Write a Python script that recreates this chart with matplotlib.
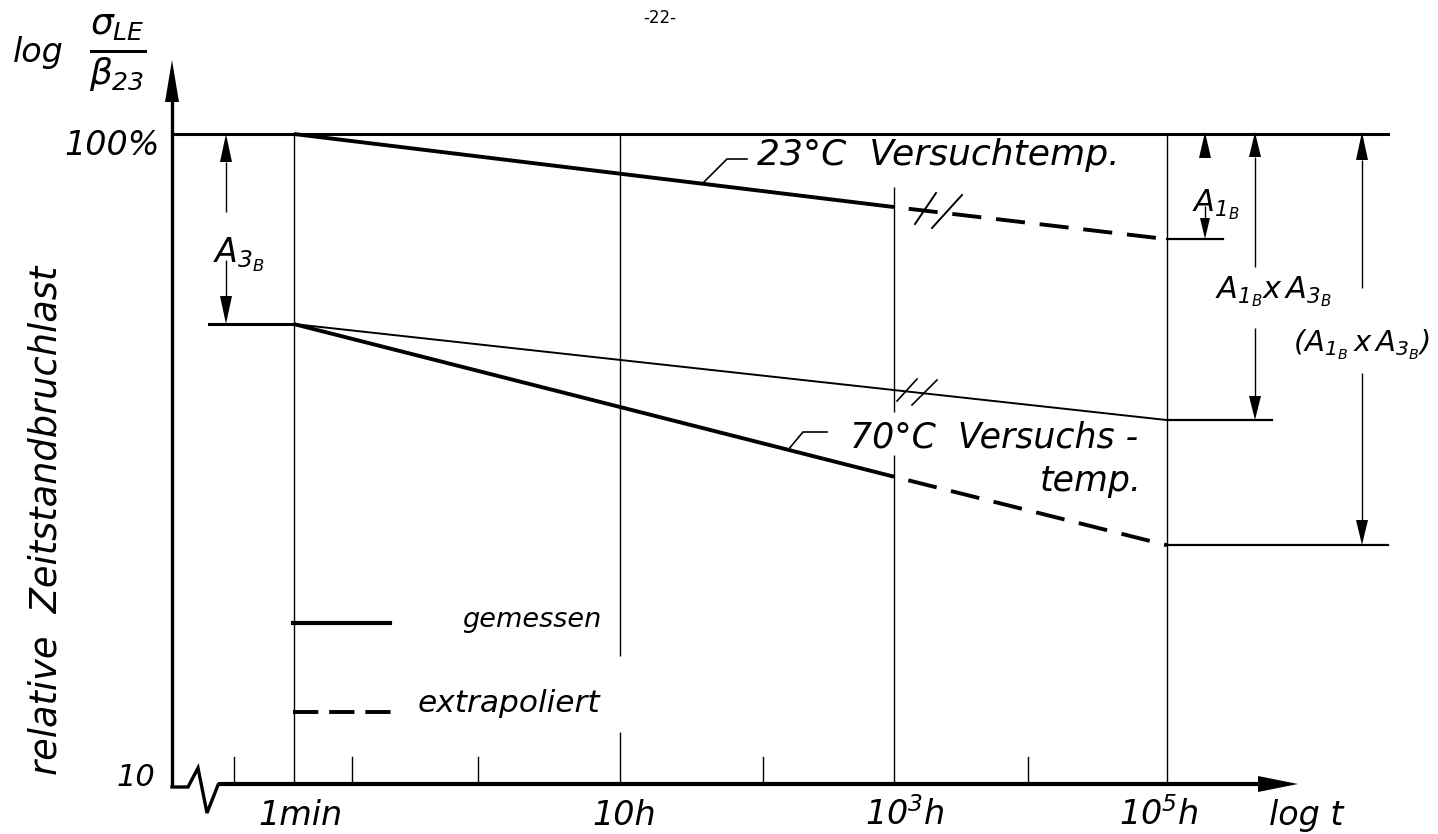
import numpy as np
import matplotlib
matplotlib.use("Agg")
import matplotlib.pyplot as plt
from matplotlib.patches import Polygon

# ---------------- data (schematic log-t positions, % of short-time strength) ----
time_labels = ["1min", "10h", r"$10^3$h", r"$10^5$h"]
time_pos = [2.94, 6.20, 8.94, 11.67]          # main grid lines on the log t axis
minor_tick_pos = [2.34, 3.52, 4.78, 7.63, 10.28]

level_100 = 100.0
level_A3B = 51.0

# 23 °C test temperature
t23_meas_x = [2.94, 8.94]
t23_meas_y = [100.0, 77.2]
t23_extr_x = [8.94, 11.67]
t23_extr_y = [77.2, 68.9]

# 23 °C curve reduced by A3B (thin reference line)
ref_x = [2.94, 11.67]
ref_y = [51.0, 36.3]

# 70 °C test temperature
t70_meas_x = [2.94, 8.94]
t70_meas_y = [51.0, 29.7]
t70_extr_x = [8.94, 11.67]
t70_extr_y = [29.7, 23.3]

# ---------------- figure ----------------
plt.rcParams["mathtext.fontset"] = "custom"
plt.rcParams["mathtext.rm"] = "DejaVu Sans:italic"
plt.rcParams["mathtext.it"] = "DejaVu Sans:italic"
plt.rcParams["font.family"] = ["DejaVu Sans"]

fig = plt.figure(figsize=(14.38, 8.34), dpi=100)
ax = fig.add_axes([0, 0, 1, 1])
ax.set_yscale("log")
TOP, PPD = 134.0, 650.0          # pixel row of 100 %, pixels per decade


def Y(py):
    return 10 ** (2 - (py - TOP) / PPD)


def X(px):
    return px / 100.0


ax.set_xlim(0, 14.38)
ax.set_ylim(Y(834), Y(0))
ax.axis("off")

K = "black"
TXT = dict(color=K, style="italic", family="DejaVu Sans")
DASH = (7.5, (7.5, 3.8))


def vline(x, p0, p1, lw=1.0):
    ax.plot([x, x], [Y(p0), Y(p1)], color=K, lw=lw, solid_capstyle="butt")


def head(x, tip_py, base_py, hw=6):
    ax.add_patch(Polygon([(x, Y(tip_py)), (x - X(hw), Y(base_py)),
                          (x + X(hw), Y(base_py))], closed=True, color=K, lw=0))


def pline(pts, lw=1.0):
    ax.plot([X(a) for a, b in pts], [Y(b) for a, b in pts], color=K, lw=lw,
            solid_joinstyle="miter")


# ---- y axis with arrow
yx = X(172)
vline(yx, 787, 100, lw=2.4)
head(yx, 60, 102, hw=7)

# ---- x axis with break and arrow
pline([(172, 787), (188, 787), (198, 768), (207, 813), (218, 785)], lw=2.4)
ax.plot([X(218), X(1262)], [10, 10], color=K, lw=3.0, solid_capstyle="butt")
ax.add_patch(Polygon([(X(1298), 10), (X(1258), Y(776)), (X(1258), Y(792))],
                     closed=True, color=K, lw=0))
for tp in minor_tick_pos:
    ax.plot([tp, tp], [10, Y(757)], color=K, lw=1.0)

# ---- 100 % line
ax.plot([yx, X(1388)], [level_100, level_100], color=K, lw=2.2)

# ---- grid lines (with gaps behind labels)
gaps = {1: [(656, 732)], 2: [(100, 187), (412, 455)]}
for i, tp in enumerate(time_pos):
    segs = [(TOP, 784)]
    for g0, g1 in gaps.get(i, []):
        new = []
        for s0, s1 in segs:
            if g1 <= s0 or g0 >= s1:
                new.append((s0, s1))
            else:
                if g0 > s0:
                    new.append((s0, g0))
                if g1 < s1:
                    new.append((g1, s1))
        segs = new
    for s0, s1 in segs:
        vline(tp, s0, s1, lw=1.0)

# ---- curves
ax.plot(t23_meas_x, t23_meas_y, color=K, lw=2.8, solid_capstyle="butt")
ax.plot(t23_extr_x, t23_extr_y, color=K, lw=2.8, linestyle=DASH)
ax.plot(ref_x, ref_y, color=K, lw=1.4)
ax.plot(t70_meas_x, t70_meas_y, color=K, lw=2.8, solid_capstyle="butt")
ax.plot(t70_extr_x, t70_extr_y, color=K, lw=2.8, linestyle=DASH)

# A3B level plateau before 1 min
ax.plot([X(209), time_pos[0]], [level_A3B, level_A3B], color=K, lw=2.2)

# end levels to the right
ax.plot([time_pos[3], X(1223)], [t23_extr_y[-1]] * 2, color=K, lw=1.6)
ax.plot([time_pos[3], X(1272)], [ref_y[-1]] * 2, color=K, lw=1.6)
ax.plot([time_pos[3], X(1388)], [t70_extr_y[-1]] * 2, color=K, lw=1.6)

# ---- break marks //
pline([(915, 224), (936, 193)], lw=1.4)
pline([(932, 228), (962, 195)], lw=1.4)
pline([(897, 401), (917, 379)], lw=1.2)
pline([(912, 405), (937, 380)], lw=1.2)

# ---- leaders to labels
pline([(703, 183), (727, 159), (747, 159)], lw=1.2)
pline([(788, 450), (803, 432), (827, 432)], lw=1.2)

# ---- dimension arrows
# A3B
ax_x = X(226)
head(ax_x, TOP, 162, hw=6)
vline(ax_x, 162, 212)
vline(ax_x, 260, 298)
head(ax_x, 324, 296, hw=6)
ax.text(X(213), Y(255), r"$A_{3_B}$", fontsize=24, ha="left", va="center", **TXT)

# A1B
a1x = X(1205)
head(a1x, 132, 158, hw=6)
vline(a1x, 206, 220)
head(a1x, 239, 218, hw=5)
ax.text(X(1192), Y(205), r"$A_{1_B}$", fontsize=22, ha="left", va="center", **TXT)

# A1B x A3B
a2x = X(1255)
head(a2x, 132, 157, hw=6)
vline(a2x, 157, 267)
vline(a2x, 328, 400)
head(a2x, 420, 396, hw=6)
ax.text(X(1274), Y(292), r"$A_{1_B}x\,A_{3_B}$", fontsize=22, ha="center",
        va="center", **TXT)

# (A1B x A3B)
a3x = X(1362)
head(a3x, 132, 160, hw=6)
vline(a3x, 160, 288)
vline(a3x, 373, 522)
head(a3x, 545, 520, hw=6)
ax.text(X(1361), Y(345), r"$(A_{1_B}\,x\,A_{3_B})$", fontsize=21, ha="center",
        va="center", **TXT)

# ---- legend
pline([(293, 623), (390, 623)], lw=3.0)
ax.text(X(462), Y(620), "gemessen", fontsize=19.5, ha="left", va="center", **TXT)
ax.plot([X(293), X(392)], [Y(712), Y(712)], color=K, lw=2.8, dashes=(6.5, 2.8))
ax.text(X(418), Y(703), "extrapoliert", fontsize=22.5, ha="left", va="center", **TXT)

# ---- curve labels
ax.text(X(757), Y(155), "23°C  Versuchtemp.", fontsize=26, ha="left", va="center", **TXT)
ax.text(X(850), Y(437), "70°C  Versuchs -", fontsize=25, ha="left", va="center", **TXT)
ax.text(X(1040), Y(481), "temp.", fontsize=25, ha="left", va="center", **TXT)

# ---- axis labels / ticks
ax.text(X(112), Y(145), "100%", fontsize=24, ha="center", va="center", **TXT)
ax.text(X(136), Y(777), "10", fontsize=22, ha="center", va="center", **TXT)
ax.text(X(46), Y(520), "relative  Zeitstandbruchlast", fontsize=26.5, rotation=90,
        ha="center", va="center", **TXT)
ax.text(X(38), Y(52), "log", fontsize=24, ha="center", va="center", **TXT)
ax.text(X(118), Y(53), r"$\frac{\sigma_{LE}}{\beta_{23}}$", fontsize=37,
        ha="center", va="center", **TXT)
label_centers = [300, 624, 905, 1159]
for lab, cx in zip(time_labels, label_centers):
    ax.text(X(cx), Y(815), lab, fontsize=24, ha="center", va="center", **TXT)
ax.text(X(1306), Y(815), "log t", fontsize=24, ha="center", va="center", **TXT)
ax.text(X(660), Y(18), "-22-", fontsize=12, ha="center", va="center", color=K)

fig.savefig("out.png", dpi=100, facecolor="white")
